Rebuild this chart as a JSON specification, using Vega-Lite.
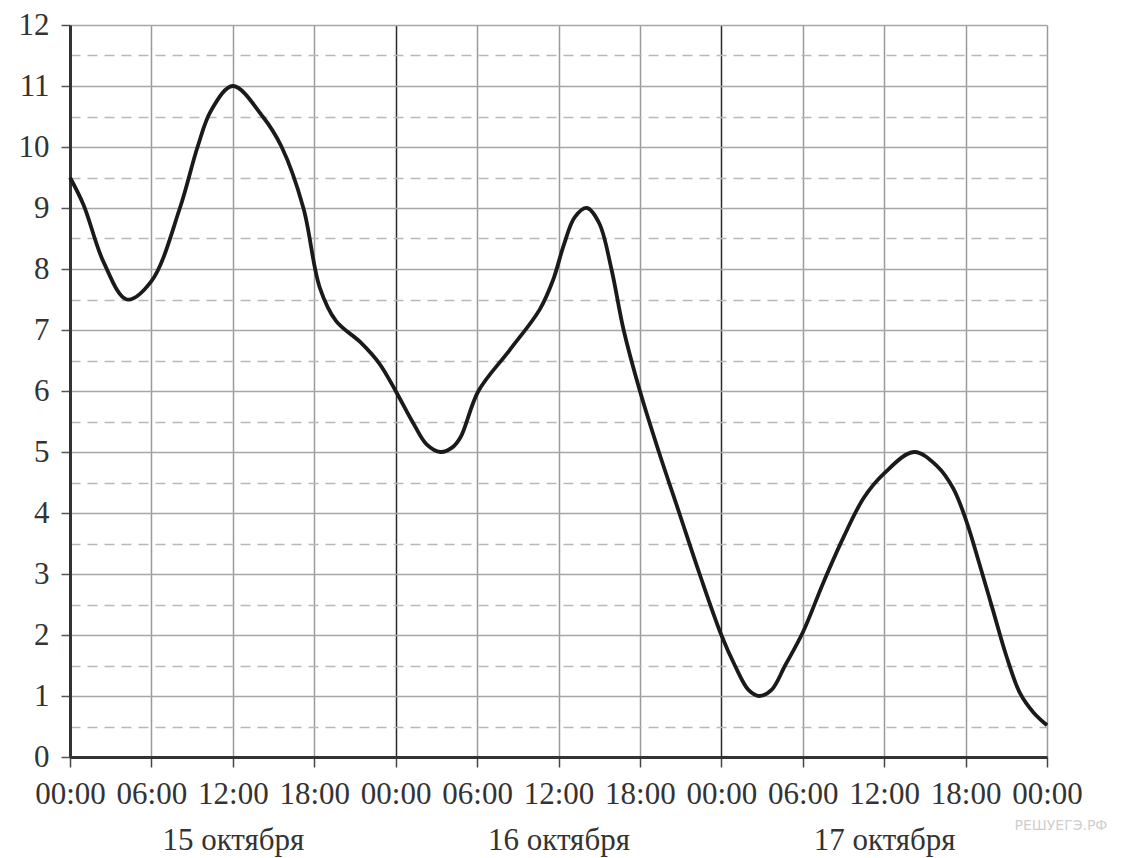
{
  "$schema": "https://vega.github.io/schema/vega-lite/v6.json",
  "width": 977,
  "height": 732,
  "autosize": {"type": "none"},
  "padding": {"left": 70, "top": 25, "right": 88, "bottom": 101},
  "background": "white",
  "config": {"view": {"stroke": null}, "font": "Liberation Serif, Times New Roman, serif"},
  "data": {"values": [
    {"h": 0, "v": 9.5}, {"h": 1, "v": 9.05}, {"h": 2.5, "v": 8.1}, {"h": 4.2, "v": 7.5},
    {"h": 6, "v": 7.8}, {"h": 8.1, "v": 9.0}, {"h": 9.4, "v": 10.0}, {"h": 10.4, "v": 10.6},
    {"h": 12, "v": 11.0}, {"h": 14.2, "v": 10.5}, {"h": 15.6, "v": 10.0}, {"h": 17.2, "v": 9.0},
    {"h": 18.4, "v": 7.7}, {"h": 19.6, "v": 7.15}, {"h": 21.4, "v": 6.8}, {"h": 22.8, "v": 6.45},
    {"h": 24, "v": 6.0}, {"h": 25.3, "v": 5.47}, {"h": 26.3, "v": 5.12}, {"h": 27.3, "v": 5.0},
    {"h": 28.2, "v": 5.08}, {"h": 28.8, "v": 5.25}, {"h": 30.1, "v": 6.0}, {"h": 32.4, "v": 6.67},
    {"h": 34.6, "v": 7.33}, {"h": 35.6, "v": 7.82}, {"h": 36.4, "v": 8.4}, {"h": 37.2, "v": 8.85},
    {"h": 38.1, "v": 9.0}, {"h": 39, "v": 8.75}, {"h": 39.9, "v": 8.0}, {"h": 40.8, "v": 7.0},
    {"h": 42, "v": 6.0}, {"h": 43.4, "v": 5.0}, {"h": 44.9, "v": 4.0}, {"h": 46.4, "v": 3.0},
    {"h": 48, "v": 2.0}, {"h": 49, "v": 1.5}, {"h": 50, "v": 1.1}, {"h": 50.8, "v": 1.0},
    {"h": 51.7, "v": 1.1}, {"h": 52.7, "v": 1.5}, {"h": 54, "v": 2.04}, {"h": 55.5, "v": 2.85},
    {"h": 57, "v": 3.6}, {"h": 58.5, "v": 4.25}, {"h": 60, "v": 4.65}, {"h": 62.2, "v": 5.0},
    {"h": 63.9, "v": 4.77}, {"h": 65.1, "v": 4.4}, {"h": 66.1, "v": 3.84}, {"h": 67, "v": 3.18},
    {"h": 68, "v": 2.42}, {"h": 69, "v": 1.66}, {"h": 70, "v": 1.05}, {"h": 71, "v": 0.73},
    {"h": 72, "v": 0.52}
  ]},
  "mark": {"type": "line", "interpolate": "catmull-rom", "color": "#1a1a1a", "strokeWidth": 3.8},
  "encoding": {
    "x": {
      "field": "h", "type": "quantitative",
      "scale": {"domain": [0, 72], "nice": false, "zero": false},
      "axis": {
        "values": [0, 6, 12, 18, 24, 30, 36, 42, 48, 54, 60, 66, 72],
        "labelExpr": "datum.value === 12 ? ['12:00', '15 октября'] : datum.value === 36 ? ['12:00', '16 октября'] : datum.value === 60 ? ['12:00', '17 октября'] : ((datum.value % 24) < 10 ? '0' : '') + (datum.value % 24) + ':00'",
        "labelLineHeight": 46,
        "labelFont": "Liberation Serif, Times New Roman, serif",
        "labelFontSize": 31,
        "labelColor": "#333",
        "labelPadding": 12,
        "labelOverlap": false,
        "labelFlush": false,
        "tickSize": 10,
        "tickColor": "#444",
        "tickWidth": 1.5,
        "domainColor": "#333",
        "domainWidth": 3,
        "grid": true,
        "gridColor": {"condition": {"test": "datum.value === 24 || datum.value === 48", "value": "#2a2a2a"}, "value": "#9a9a9a"},
        "gridWidth": 1.5,
        "title": "РЕШУЕГЭ.РФ",
        "titleFont": "DejaVu Sans",
        "titleFontSize": 14,
        "titleFontWeight": "normal",
        "titleColor": "#cfcfcf",
        "titleX": 944,
        "titleY": 68,
        "titleAlign": "left",
        "titleBaseline": "middle"
      }
    },
    "y": {
      "field": "v", "type": "quantitative",
      "scale": {"domain": [0, 12], "nice": false, "zero": false},
      "axis": {
        "values": [0, 0.5, 1, 1.5, 2, 2.5, 3, 3.5, 4, 4.5, 5, 5.5, 6, 6.5, 7, 7.5, 8, 8.5, 9, 9.5, 10, 10.5, 11, 11.5, 12],
        "labelExpr": "datum.value % 1 === 0 ? format(datum.value, 'd') : ''",
        "labelFont": "Liberation Serif, Times New Roman, serif",
        "labelFontSize": 31,
        "labelColor": "#333",
        "labelPadding": 12,
        "labelOverlap": false,
        "labelFlush": false,
        "tickSize": 9,
        "tickColor": {"condition": {"test": "datum.value % 1 !== 0", "value": "transparent"}, "value": "#555"},
        "tickWidth": 1.5,
        "domainColor": "#333",
        "domainWidth": 3,
        "grid": true,
        "gridColor": {"condition": {"test": "datum.value % 1 !== 0", "value": "#b8b8b8"}, "value": "#a6a6a6"},
        "gridDash": {"condition": {"test": "datum.value % 1 !== 0", "value": [10, 7]}, "value": []},
        "gridWidth": 1.6,
        "title": null
      }
    }
  }
}
